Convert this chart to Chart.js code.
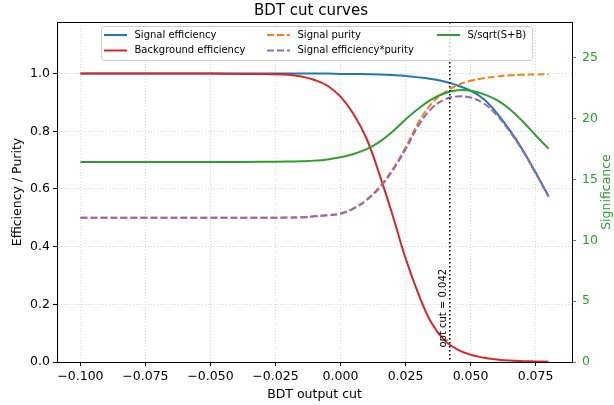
<!DOCTYPE html>
<html>
<head>
<meta charset="utf-8">
<script src="https://cdn.jsdelivr.net/npm/chart.js@4.4.1/dist/chart.umd.min.js"></script>
<style>
  html, body { margin: 0; padding: 0; background: #fff; }
  #wrap { width: 614px; height: 405px; }
</style>
</head>
<body>
<div id="wrap"><canvas id="chart" width="614" height="405"></canvas></div>
<script>
// BDT cut values (x) and curves
const cuts = [-0.100, -0.075, -0.050, -0.030, -0.020, -0.015, -0.010, -0.005, 0.000, 0.005, 0.010, 0.015, 0.020,
              0.025, 0.030, 0.035, 0.040, 0.045, 0.050, 0.055, 0.060, 0.065, 0.070, 0.075, 0.080];
const sigEff = [1.000, 1.000, 1.000, 1.000, 1.000, 1.000, 1.000, 1.000, 0.999, 0.999, 0.998, 0.997, 0.995,
                0.992, 0.987, 0.981, 0.973, 0.959, 0.941, 0.912, 0.864, 0.805, 0.736, 0.657, 0.575];
const bkgEff = [1.000, 1.000, 1.000, 0.999, 0.996, 0.990, 0.978, 0.958, 0.920, 0.860, 0.775, 0.650, 0.510,
                0.360, 0.235, 0.135, 0.075, 0.043, 0.025, 0.015, 0.009, 0.005, 0.003, 0.002, 0.001];
const purity = [0.500, 0.500, 0.500, 0.500, 0.501, 0.502, 0.505, 0.509, 0.515, 0.533, 0.563, 0.607, 0.668,
                0.744, 0.831, 0.896, 0.935, 0.960, 0.975, 0.984, 0.990, 0.994, 0.996, 0.997, 0.998];
const effPurity = [0.500, 0.500, 0.500, 0.500, 0.501, 0.502, 0.505, 0.509, 0.514, 0.532, 0.561, 0.604, 0.663,
                   0.737, 0.820, 0.879, 0.910, 0.921, 0.917, 0.897, 0.857, 0.800, 0.733, 0.655, 0.573];
const signif = [16.45, 16.45, 16.45, 16.46, 16.48, 16.51, 16.56, 16.66, 16.83, 17.10, 17.50, 18.10, 18.95,
                19.95, 20.85, 21.60, 22.10, 22.35, 22.31, 22.03, 21.55, 20.80, 19.80, 18.65, 17.55];
const optCut = 0.042;

const xTicks = [-0.100, -0.075, -0.050, -0.025, 0.000, 0.025, 0.050, 0.075];
const yTicks = [0.0, 0.2, 0.4, 0.6, 0.8, 1.0];
const y2Ticks = [0, 5, 10, 15, 20, 25];

const GREEN = '#2ca02c';

function pts(vals) {
    return cuts.map((c, i) => ({ x: c, y: vals[i] }));
}

Chart.defaults.font.family = '"DejaVu Sans", sans-serif';
Chart.defaults.color = '#000';

// legend slots: [dataset index, column, row]
const legendSlots = [[0, 0, 0], [1, 0, 1], [2, 1, 0], [3, 1, 1], [4, 2, 0]];
const legendColX = [104, 267, 437];
const legendRowY = [35, 50.5];

const extras = {
    id: 'extras',
    afterDatasetsDraw(chart) {
        const { ctx, chartArea: a, scales } = chart;
        const x = scales.x.getPixelForValue(optCut);
        ctx.save();
        ctx.strokeStyle = '#000';
        ctx.lineWidth = 1.6;
        ctx.setLineDash([1.6, 2.4]);
        ctx.beginPath();
        ctx.moveTo(x, a.top);
        ctx.lineTo(x, a.bottom);
        ctx.stroke();
        ctx.restore();

        ctx.save();
        ctx.translate(x - 6, scales.y.getPixelForValue(0.05));
        ctx.rotate(-Math.PI / 2);
        ctx.font = '10px "DejaVu Sans"';
        ctx.fillStyle = '#000';
        ctx.textAlign = 'left';
        ctx.textBaseline = 'middle';
        ctx.fillText('opt cut = ' + optCut.toFixed(3), 0, 0);
        ctx.restore();
    },
    afterDraw(chart) {
        const { ctx, chartArea: a } = chart;
        ctx.save();
        // top spine
        ctx.strokeStyle = '#000';
        ctx.lineWidth = 1;
        ctx.beginPath();
        ctx.moveTo(a.left, Math.round(a.top) + 0.5);
        ctx.lineTo(a.right, Math.round(a.top) + 0.5);
        ctx.stroke();

        // title
        ctx.fillStyle = '#000';
        ctx.font = '15px "DejaVu Sans"';
        ctx.textAlign = 'center';
        ctx.textBaseline = 'middle';
        ctx.fillText('BDT cut curves', 311, 11);

        // right axis title, reading bottom to top
        ctx.save();
        ctx.translate(607, (a.top + a.bottom) / 2);
        ctx.rotate(-Math.PI / 2);
        ctx.fillStyle = GREEN;
        ctx.font = '12.5px "DejaVu Sans"';
        ctx.fillText('Significance', 0, 0);
        ctx.restore();

        // legend
        ctx.fillStyle = 'rgba(255,255,255,0.8)';
        ctx.strokeStyle = '#cccccc';
        ctx.lineWidth = 1;
        ctx.beginPath();
        ctx.roundRect(101.5, 26.5, 431, 34, 3);
        ctx.fill();
        ctx.stroke();
        ctx.font = '10px "DejaVu Sans"';
        ctx.textAlign = 'left';
        ctx.textBaseline = 'middle';
        legendSlots.forEach(([di, col, row]) => {
            const ds = chart.data.datasets[di];
            const hx = legendColX[col];
            const hy = legendRowY[row];
            ctx.strokeStyle = ds.borderColor;
            ctx.lineWidth = 2;
            ctx.setLineDash(ds.borderDash || []);
            ctx.beginPath();
            ctx.moveTo(hx, hy);
            ctx.lineTo(hx + 23, hy);
            ctx.stroke();
            ctx.setLineDash([]);
            ctx.fillStyle = '#000';
            ctx.fillText(ds.label, hx + 30.5, hy);
        });
        ctx.restore();
    }
};

new Chart(document.getElementById('chart').getContext('2d'), {
    type: 'line',
    data: {
        datasets: [{
            label: 'Signal efficiency',
            data: pts(sigEff),
            borderColor: '#1f77b4',
            yAxisID: 'y',
            order: 4
        }, {
            label: 'Background efficiency',
            data: pts(bkgEff),
            borderColor: '#d62728',
            yAxisID: 'y',
            order: 3
        }, {
            label: 'Signal purity',
            data: pts(purity),
            borderColor: '#ff7f0e',
            borderDash: [7, 3],
            yAxisID: 'y',
            order: 2
        }, {
            label: 'Signal efficiency*purity',
            data: pts(effPurity),
            borderColor: '#9467bd',
            borderDash: [7, 3],
            yAxisID: 'y',
            order: 1
        }, {
            label: 'S/sqrt(S+B)',
            data: pts(signif),
            borderColor: GREEN,
            yAxisID: 'y2',
            order: 0
        }]
    },
    options: {
        responsive: false,
        animation: false,
        devicePixelRatio: 1,
        layout: { padding: { top: 22, left: 0, right: 0, bottom: 0 } },
        plugins: {
            legend: { display: false },
            title: { display: false },
            tooltip: { enabled: false }
        },
        elements: {
            point: { radius: 0 },
            line: { borderWidth: 2, tension: 0.4, fill: false }
        },
        scales: {
            x: {
                type: 'linear',
                min: -0.109,
                max: 0.089,
                afterBuildTicks: s => { s.ticks = xTicks.map(v => ({ value: v })); },
                afterFit: s => { s.height = 43; },
                ticks: {
                    callback: v => (v < 0 ? '\u2212' : '') + Math.abs(v).toFixed(3),
                    font: { size: 12.5 },
                    color: '#000',
                    padding: 3,
                    maxRotation: 0,
                    autoSkip: false
                },
                grid: { color: '#d6d6d6', tickColor: '#000', tickLength: 4, lineWidth: 1 },
                border: { color: '#000', width: 1, dash: [1, 2] },
                title: { display: true, text: 'BDT output cut', font: { size: 12.5 }, color: '#000', padding: { top: 0, bottom: 3 } }
            },
            y: {
                position: 'left',
                min: 0,
                max: 1.179,
                afterBuildTicks: s => { s.ticks = yTicks.map(v => ({ value: v })); },
                afterFit: s => { s.width = 57; },
                ticks: {
                    callback: v => v.toFixed(1),
                    font: { size: 12.5 },
                    color: '#000',
                    padding: 3
                },
                grid: { color: '#d6d6d6', tickColor: '#000', tickLength: 4, lineWidth: 1 },
                border: { color: '#000', width: 1, dash: [1, 2] },
                title: { display: true, text: 'Efficiency / Purity', font: { size: 12.5 }, color: '#000', padding: { top: 10, bottom: 0 } }
            },
            y2: {
                position: 'right',
                min: 0,
                max: 27.96,
                afterBuildTicks: s => { s.ticks = y2Ticks.map(v => ({ value: v })); },
                afterFit: s => { s.width = 42; },
                ticks: {
                    callback: v => String(v),
                    font: { size: 12.5 },
                    color: GREEN,
                    padding: 6
                },
                grid: { drawOnChartArea: false, color: GREEN, tickColor: GREEN, tickLength: 4 },
                border: { color: '#000', width: 1 }
            }
        }
    },
    plugins: [extras]
});
</script>
</body>
</html>
